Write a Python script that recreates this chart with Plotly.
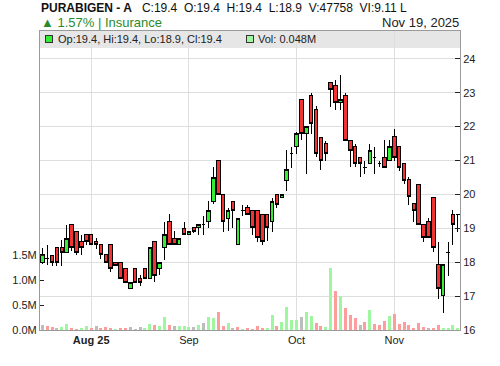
import plotly.graph_objects as go

# ---------------- data ----------------
opens = [18.0, 18.1, 18.2, 18.42, 18.42, 18.3, 19.1, 18.91, 18.6, 18.81,
         18.81, 18.6, 18.51, 18.22, 18.51, 18.0, 18.0, 17.81, 17.22, 17.81,
         17.51, 17.81, 17.51, 18.6, 17.81, 18.42, 19.2, 18.71, 18.51, 19.0,
         18.81, 19.01, 19.01, 19.1, 19.2, 19.8, 21.01, 20.0, 19.3, 19.8,
         18.52, 19.52, 19.6, 19.52, 19.52, 19.42, 19.42, 19.21, 20.0, 19.9,
         20.41, 21.2, 21.42, 22.79, 21.79, 22.92, 22.5, 21.69, 21.5, 23.29,
         23.22, 22.72, 22.92, 21.59, 21.4, 21.1, 20.8, 20.9, 21.08, 20.9,
         21.08, 21.0, 21.71, 21.4, 20.9, 20.43, 19.72, 20.3, 19.1, 19.2,
         19.92, 17.93, 17.02, 18.3, 19.4, 19.4]
highs = [18.42, 18.52, 18.2, 18.42, 18.66, 19.1, 19.1, 18.91, 18.8, 18.81,
         18.81, 18.7, 18.51, 18.22, 18.51, 18.0, 18.0, 17.81, 17.41, 17.81,
         17.61, 17.81, 18.42, 18.6, 18.0, 19.2, 19.42, 18.91, 18.71, 19.2,
         18.91, 19.05, 19.1, 19.35, 19.82, 20.8, 21.01, 20.0, 19.6, 19.8,
         19.3, 19.7, 19.7, 19.52, 19.52, 19.42, 19.42, 19.9, 20.0, 20.0,
         21.31, 21.4, 21.85, 22.8, 22.0, 23.0, 22.6, 21.69, 21.59, 23.29,
         23.36, 23.51, 23.0, 21.59, 21.5, 21.1, 21.0, 21.5, 21.4, 21.0,
         21.6, 21.6, 21.94, 21.4, 20.9, 20.5, 19.72, 20.3, 19.1, 19.3,
         19.92, 18.6, 17.93, 18.6, 19.55, 19.4]
lows = [17.95, 17.93, 17.9, 17.9, 17.9, 18.3, 18.32, 18.2, 18.2, 18.5,
        18.51, 18.4, 18.1, 18.0, 17.7, 17.9, 17.5, 17.4, 17.22, 17.41,
        17.29, 17.51, 17.51, 17.41, 17.61, 18.07, 18.51, 18.51, 18.51, 18.81,
        18.81, 18.85, 18.81, 18.81, 19.01, 19.72, 20.0, 18.9, 18.91, 19.0,
        18.52, 19.35, 19.42, 18.8, 18.6, 18.5, 18.62, 18.9, 19.6, 19.9,
        20.09, 20.79, 21.2, 21.6, 20.6, 21.79, 21.1, 20.71, 21.0, 22.58,
        22.5, 22.5, 21.59, 20.8, 20.8, 20.5, 20.6, 20.9, 20.6, 20.8,
        20.79, 21.0, 21.0, 20.7, 20.3, 19.7, 19.2, 19.1, 18.6, 18.72,
        18.3, 16.92, 16.5, 17.6, 18.5, 18.9]
closes = [18.22, 18.1, 18.0, 18.0, 18.3, 18.71, 18.42, 18.3, 18.42, 18.6,
          18.51, 18.51, 18.22, 18.0, 17.81, 17.9, 17.51, 17.41, 17.41, 17.41,
          17.41, 17.51, 18.42, 17.61, 18.0, 18.81, 18.51, 18.51, 18.71, 18.81,
          18.91, 18.91, 19.1, 19.1, 19.52, 20.51, 20.0, 19.2, 19.52, 19.52,
          19.3, 19.52, 19.42, 19.01, 18.72, 18.62, 19.01, 19.8, 19.71, 20.0,
          20.73, 21.2, 21.79, 21.79, 21.99, 22.09, 21.2, 21.0, 21.2, 23.09,
          22.72, 22.79, 21.59, 21.3, 20.9, 20.9, 20.8, 21.3, 21.08, 20.9,
          20.79, 21.4, 21.1, 20.8, 20.4, 19.94, 19.52, 19.1, 18.72, 18.72,
          18.42, 17.22, 17.93, 18.3, 19.1, 19.4]
volumes_m = [0.10, 0.08, 0.06, 0.04, 0.06, 0.127, 0.04, 0.02, 0.04, 0.08,
             0.04, 0.08, 0.04, 0.06, 0.04, 0.005, 0.04, 0.04, 0.06, 0.02,
             0.06, 0.04, 0.127, 0.107, 0.087, 0.26, 0.107, 0.08, 0.08, 0.08,
             0.06, 0.06, 0.10, 0.14, 0.26, 0.24, 0.36, 0.08, 0.14, 0.04,
             0.06, 0.02, 0.04, 0.02, 0.087, 0.027, 0.047, 0.307, 0.087, 0.167,
             0.467, 0.193, 0.207, 0.267, 0.367, 0.287, 0.147, 0.087, 0.067, 1.247,
             0.787, 0.687, 0.447, 0.307, 0.247, 0.107, 0.167, 0.407, 0.127, 0.107,
             0.187, 0.287, 0.327, 0.127, 0.167, 0.107, 0.047, 0.147, 0.067, 0.047,
             0.047, 0.10, 0.047, 0.047, 0.107, 0.048]

month_labels = ["<b>Aug 25</b>", "Sep", "Oct", "Nov"]
month_index = [10, 30, 52, 72]          # first trading session of each month
price_ticks = [16, 17, 18, 19, 20, 21, 22, 23, 24]
vol_ticks = [0.0, 0.5, 1.0, 1.5]
vol_tick_labels = ["0.0M", "0.5M", "1.0M", "1.5M"]

name = "PURABIGEN - A"
last_volume = 47758
traded_value = "9.11 L"
pct_change = 1.57
sector = "Insurance"
date_label = "Nov 19, 2025"

# ---------------- styling ----------------
FONT = "Liberation Sans, Arial, sans-serif"
GREEN = "#33ee33"
RED = "#f03434"
VGREEN = "#9ef79e"
VRED = "#ff9c9c"
VGRAY = "#bdbdbd"
GRID = "#dedede"
AXIS = "#9a9a9a"

idx = list(range(len(closes)))

vol_colors = []
for i, c in enumerate(closes):
    if i == 0 or c == closes[i - 1]:
        vol_colors.append(VGRAY)
    elif c > closes[i - 1]:
        vol_colors.append(VGREEN)
    else:
        vol_colors.append(VRED)

fig = go.Figure()
fig.add_trace(go.Bar(x=idx, y=volumes_m, yaxis="y", width=0.62,
                     marker=dict(color=vol_colors, line=dict(width=0)),
                     hoverinfo="skip"))
fig.add_trace(go.Candlestick(
    x=idx, open=opens, high=highs, low=lows, close=closes, yaxis="y2",
    increasing=dict(fillcolor=GREEN, line=dict(color="#000000", width=1)),
    decreasing=dict(fillcolor=RED, line=dict(color="#000000", width=1)),
    whiskerwidth=0, hoverinfo="skip"))

L, R, T, B = 40, 40, 31, 36
W, H = 500, 366
pw, ph = W - L - R, H - T - B


def px(x):
    return (x - L) / pw


def py(y):
    return (H - B - y) / ph


nb = "\u00a0"
sp2 = nb + nb
o, h, l, c = opens[-1], highs[-1], lows[-1], closes[-1]
header = (f"<b>{name}</b>{sp2}{nb}C:{c}{sp2}O:{o}{sp2}H:{h}{sp2}L:{l}"
          f"{sp2}V:{last_volume}{sp2}VI:{traded_value}")

annotations = [
    dict(text=header, x=px(39), y=py(8), xanchor="left", yanchor="middle",
         font=dict(size=12, color="#111111", family=FONT)),
    dict(text=f"\u25b2 {pct_change:.2f}% | {sector}", x=px(39), y=py(22.5),
         xanchor="left", yanchor="middle",
         font=dict(size=13, color="#2a8a2a", family=FONT)),
    dict(text=date_label, x=px(461), y=py(22.5), xanchor="right", yanchor="middle",
         font=dict(size=13, color="#222222", family=FONT)),
    dict(text=f"Op:{o}, Hi:{h}, Lo:{l}, Cl:{c}", x=px(55.5), y=py(39.5),
         xanchor="left", yanchor="middle",
         font=dict(size=11, color="#222222", family=FONT)),
    dict(text=f"Vol: {last_volume / 1e6:.3f}M", x=px(256), y=py(39.5),
         xanchor="left", yanchor="middle",
         font=dict(size=11, color="#222222", family=FONT)),
]
for a in annotations:
    a.update(xref="paper", yref="paper", showarrow=False)

shapes = [
    dict(type="rect", xref="paper", yref="paper", x0=0, x1=1, y0=py(48), y1=1,
         fillcolor="#e6e6e6", line=dict(width=0), layer="below"),
    dict(type="rect", xref="paper", yref="paper", x0=px(45), x1=px(52),
         y0=py(42), y1=py(35), fillcolor=GREEN, line=dict(color="#333333", width=1)),
    dict(type="rect", xref="paper", yref="paper", x0=px(246.5), x1=px(253.5),
         y0=py(42), y1=py(35), fillcolor=VGREEN, line=dict(color="#333333", width=1)),
]

fig.update_layout(
    width=W, height=H, margin=dict(l=L, r=R, t=T, b=B),
    paper_bgcolor="white", plot_bgcolor="white", showlegend=False,
    font=dict(family=FONT, size=11, color="#222222"),
    annotations=annotations, shapes=shapes, bargap=0,
    boxgap=0.27, boxgroupgap=0,
    xaxis=dict(range=[-0.47, 85.45], tickvals=month_index, ticktext=month_labels,
               showgrid=True, gridcolor=GRID, gridwidth=1, zeroline=False,
               showline=True, linecolor=AXIS, linewidth=1, mirror=True,
               ticks="", tickfont=dict(size=11, color="#222222"),
               rangeslider=dict(visible=False), fixedrange=True),
    yaxis=dict(range=[0, 5.98], side="left", tickvals=vol_ticks,
               ticktext=vol_tick_labels, ticks="inside", ticklen=4,
               tickcolor="#222222", showgrid=False, zeroline=False,
               showline=True, linecolor=AXIS, linewidth=1,
               tickfont=dict(size=11, color="#222222")),
    yaxis2=dict(range=[16, 24.82], overlaying="y", side="right",
                tickvals=price_ticks, ticks="inside", ticklen=5,
                tickcolor="#222222", showgrid=True, gridcolor=GRID, zeroline=False,
                showline=True, linecolor=AXIS, linewidth=1,
                tickfont=dict(size=11, color="#222222")),
)

# render candle outlines with crisp (pixel-snapped) edges like the reference
crisp = ("document.querySelectorAll('.boxlayer path, .shapelayer path')"
         ".forEach(function(p){p.setAttribute('shape-rendering','crispEdges');});")

fig.write_html("out.html", post_script=crisp)
